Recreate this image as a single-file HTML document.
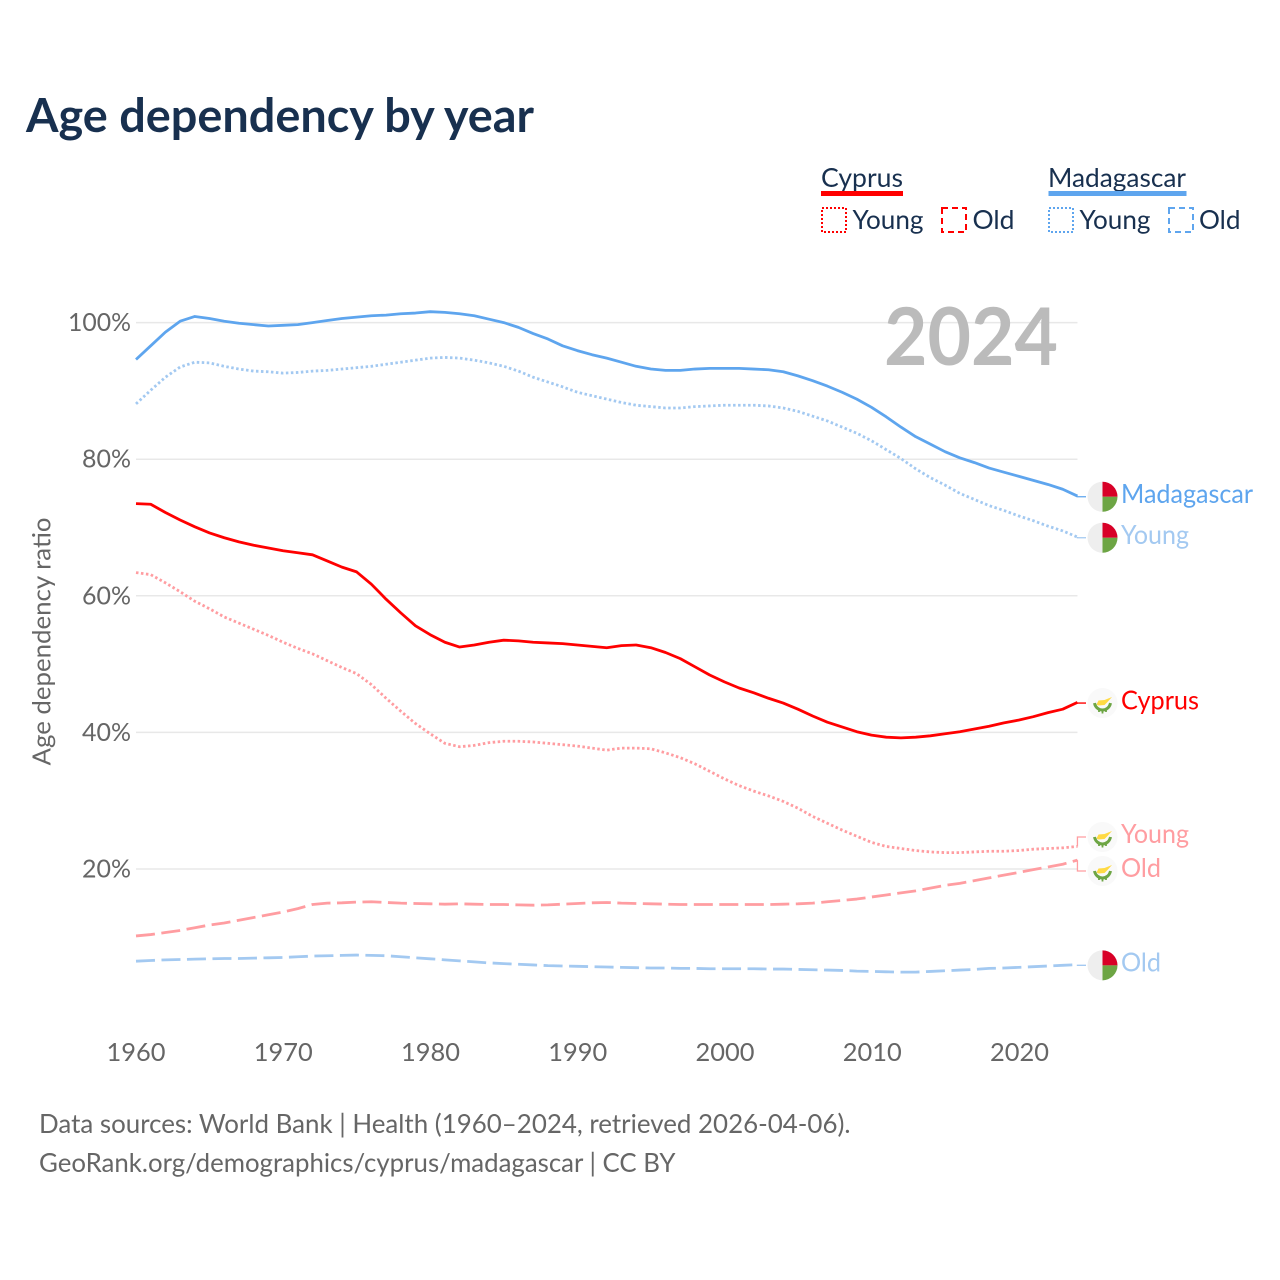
<!DOCTYPE html>
<html lang="en">
<head>
<meta charset="utf-8">
<title>Age dependency by year</title>
<style>
html,body{margin:0;padding:0;background:#fff;}
svg{display:block;}
text{font-family:Lato,Carlito,"Liberation Sans",sans-serif;}
</style>
</head>
<body>
<svg id="chart" xmlns="http://www.w3.org/2000/svg" width="1280" height="1280" viewBox="0 0 1280 1280">
  <rect x="0" y="0" width="1280" height="1280" fill="#fff"/>
  <text x="26" y="132" font-size="47" font-weight="700" fill="#18304f" textLength="508" lengthAdjust="spacingAndGlyphs">Age dependency by year</text>

  <g font-size="26.5" fill="#18304f">
    <g>
      <text x="821" y="187" textLength="82" lengthAdjust="spacingAndGlyphs">Cyprus</text>
      <rect x="821" y="191" width="82" height="5" fill="#ff0000"/>
    </g>
    <g>
      <rect x="822" y="208" width="24" height="24" fill="none" stroke="#ff0000" stroke-width="2" stroke-dasharray="2 2"/>
      <text x="852.5" y="229" textLength="71" lengthAdjust="spacingAndGlyphs">Young</text>
    </g>
    <g>
      <rect x="942" y="208" width="24" height="24" fill="none" stroke="#ff0000" stroke-width="2" stroke-dasharray="6 4"/>
      <text x="972.5" y="229" textLength="42" lengthAdjust="spacingAndGlyphs">Old</text>
    </g>
    <g>
      <text x="1048" y="187" textLength="138" lengthAdjust="spacingAndGlyphs">Madagascar</text>
      <rect x="1048.5" y="191" width="138" height="5" fill="#5ea5ee"/>
    </g>
    <g>
      <rect x="1049" y="208" width="24" height="24" fill="none" stroke="#5ea5ee" stroke-width="2" stroke-dasharray="2 2"/>
      <text x="1079.5" y="229" textLength="71" lengthAdjust="spacingAndGlyphs">Young</text>
    </g>
    <g>
      <rect x="1169" y="208" width="24" height="24" fill="none" stroke="#5ea5ee" stroke-width="2" stroke-dasharray="6 4"/>
      <text x="1199" y="229" textLength="41.5" lengthAdjust="spacingAndGlyphs">Old</text>
    </g>
  </g>

  <g id="grid"></g>
  <text x="884" y="365" font-size="80" font-weight="700" fill="#bbbbbb" textLength="174" lengthAdjust="spacingAndGlyphs">2024</text>
  <g id="yticks" font-size="25.5" fill="#666666"></g>
  <g id="xticks" font-size="25.5" fill="#666666"></g>
  <text transform="translate(50.5,641.5) rotate(-90)" text-anchor="middle" font-size="25.5" fill="#666666" textLength="248" lengthAdjust="spacingAndGlyphs">Age dependency ratio</text>
  <g id="series"></g>
  <g id="endlabels"></g>

  <g font-size="26.5" fill="#666666">
    <text x="39" y="1133" textLength="811.5" lengthAdjust="spacingAndGlyphs">Data sources: World Bank | Health (1960–2024, retrieved 2026-04-06).</text>
    <text x="39" y="1172" textLength="636.5" lengthAdjust="spacingAndGlyphs">GeoRank.org/demographics/cyprus/madagascar | CC BY</text>
  </g>
</svg>
<script>
const startYear = 1960;
const xTickYears = [1960, 1970, 1980, 1990, 2000, 2010, 2020];
const yTickValues = [20, 40, 60, 80, 100];

const madagascarTotal = [
  94.6,96.6,98.6,100.2,100.9,100.6,100.2,99.9,99.7,99.5,
  99.6,99.7,100.0,100.3,100.6,100.8,101.0,101.1,101.3,101.4,
  101.6,101.5,101.3,101.0,100.5,100.0,99.3,98.4,97.6,96.6,
  95.9,95.3,94.8,94.2,93.6,93.2,93.0,93.0,93.2,93.3,
  93.3,93.3,93.2,93.1,92.8,92.2,91.5,90.7,89.8,88.8,
  87.6,86.2,84.7,83.3,82.2,81.1,80.2,79.5,78.7,78.1,
  77.5,76.9,76.3,75.6,74.6];
const madagascarYoung = [
  88.1,90.1,92.0,93.5,94.2,94.1,93.6,93.2,92.9,92.8,
  92.6,92.7,92.9,93.0,93.2,93.4,93.6,93.9,94.2,94.5,
  94.8,94.9,94.8,94.5,94.1,93.6,92.9,92.0,91.3,90.6,
  89.8,89.3,88.8,88.3,87.9,87.7,87.5,87.5,87.7,87.8,
  87.9,87.9,87.9,87.8,87.5,87.0,86.3,85.6,84.7,83.8,
  82.7,81.4,80.1,78.6,77.3,76.2,75.0,74.1,73.2,72.5,
  71.7,71.0,70.2,69.5,68.6];
const madagascarOld = [
  6.5,6.6,6.7,6.75,6.8,6.85,6.9,6.9,6.95,7.0,
  7.05,7.15,7.25,7.3,7.35,7.4,7.35,7.3,7.15,7.0,
  6.85,6.7,6.55,6.4,6.25,6.15,6.05,5.95,5.85,5.8,
  5.75,5.7,5.65,5.6,5.55,5.5,5.5,5.45,5.45,5.4,
  5.4,5.4,5.4,5.35,5.35,5.3,5.25,5.2,5.15,5.05,
  5.0,4.95,4.9,4.9,5.0,5.1,5.2,5.3,5.45,5.5,
  5.6,5.7,5.8,5.9,6.0];
const cyprusTotal = [
  73.5,73.4,72.2,71.1,70.1,69.2,68.5,67.9,67.4,67.0,
  66.6,66.3,66.0,65.1,64.2,63.5,61.7,59.5,57.5,55.6,
  54.3,53.2,52.5,52.8,53.2,53.5,53.4,53.2,53.1,53.0,
  52.8,52.6,52.4,52.7,52.8,52.4,51.7,50.8,49.6,48.4,
  47.4,46.5,45.8,45.0,44.3,43.4,42.4,41.5,40.8,40.1,
  39.6,39.3,39.2,39.3,39.5,39.8,40.1,40.5,40.9,41.4,
  41.8,42.3,42.9,43.4,44.4];
const cyprusYoung = [
  63.4,63.1,61.9,60.6,59.2,58.1,56.9,56.0,55.1,54.2,
  53.2,52.3,51.5,50.5,49.5,48.6,47.0,45.0,43.1,41.3,
  39.8,38.4,37.9,38.1,38.5,38.7,38.7,38.6,38.4,38.2,
  38.0,37.7,37.4,37.7,37.7,37.6,37.0,36.3,35.4,34.3,
  33.2,32.2,31.4,30.7,29.9,28.9,27.7,26.7,25.7,24.8,
  23.9,23.3,23.0,22.7,22.5,22.4,22.4,22.5,22.6,22.6,
  22.7,22.9,23.0,23.1,23.3];
const cyprusOld = [
  10.2,10.4,10.7,11.0,11.4,11.8,12.1,12.5,12.9,13.3,
  13.7,14.2,14.8,15.0,15.05,15.15,15.2,15.1,15.0,14.95,
  14.9,14.85,14.9,14.85,14.8,14.8,14.75,14.7,14.75,14.85,
  14.95,15.05,15.1,15.0,14.95,14.9,14.85,14.8,14.8,14.8,
  14.8,14.8,14.8,14.8,14.85,14.9,15.0,15.2,15.4,15.6,
  15.9,16.2,16.5,16.8,17.2,17.6,17.9,18.3,18.7,19.1,
  19.5,19.9,20.3,20.7,21.3];

const NS = 'http://www.w3.org/2000/svg';
function xScale(year) { return 136 + (year - 1960) * 14.71; }
function yScale(v) { return 869 - (v - 20) * 6.83; }
function make(tag, attrs, parent) {
  const el = document.createElementNS(NS, tag);
  for (const k in attrs) el.setAttribute(k, attrs[k]);
  parent.appendChild(el);
  return el;
}

const gridLayer = document.getElementById('grid');
const yLayer = document.getElementById('yticks');
yTickValues.forEach(function (v) {
  const line = make('line', {x1: 136, x2: xScale(2024), y1: yScale(v), y2: yScale(v), stroke: '#e8e8e8', 'stroke-width': 1.5}, gridLayer);
  
  
  const label = make('text', {x: 131, y: yScale(v) + 8.5, 'text-anchor': 'end'}, yLayer);
  
  
  label.textContent = v + '%';
  label.setAttribute('textLength', v === 100 ? 63 : 49);
  label.setAttribute('lengthAdjust', 'spacingAndGlyphs');
});

const xLayer = document.getElementById('xticks');
xTickYears.forEach(function (yr) {
  const label = make('text', {x: 136 + (yr - 1960) * 14.725, y: 1061, 'text-anchor': 'middle', textLength: 59, lengthAdjust: 'spacingAndGlyphs'}, xLayer);
  
  
  label.textContent = yr;
});

const RED = '#ff0000', RED_L = '#ff9da1', BLUE = '#5ea5ee', BLUE_L = '#a3c9f1';
const DOT = '2.5 2.5', DASH = '19 6.5';
const seriesList = [
  {key: 'madagascar-old', values: madagascarOld, color: BLUE_L, dash: DASH, label: 'Old', width: 40, flag: 'mg'},
  {key: 'madagascar-young', values: madagascarYoung, color: BLUE_L, dash: DOT, label: 'Young', width: 68, flag: 'mg'},
  {key: 'madagascar-total', values: madagascarTotal, color: BLUE, dash: '', label: 'Madagascar', width: 132, flag: 'mg'},
  {key: 'cyprus-old', values: cyprusOld, color: RED_L, dash: DASH, label: 'Old', width: 40, flag: 'cy'},
  {key: 'cyprus-young', values: cyprusYoung, color: RED_L, dash: DOT, label: 'Young', width: 68, flag: 'cy'},
  {key: 'cyprus-total', values: cyprusTotal, color: RED, dash: '', label: 'Cyprus', width: 78, flag: 'cy'}
];

const seriesLayer = document.getElementById('series');
seriesList.forEach(function (s) {
  const d = s.values.map(function (v, i) {
    return (i ? 'L' : 'M') + xScale(startYear + i).toFixed(2) + ' ' + yScale(v).toFixed(2);
  }).join('');
  const path = make('path', {d: d, fill: 'none', stroke: s.color, 'stroke-width': 2.8, 'stroke-linejoin': 'round'}, seriesLayer);
  if (s.dash) path.setAttribute('stroke-dasharray', s.dash);
  
  
  s.endY = yScale(s.values[s.values.length - 1]);
});

/* dodge end labels so they keep a minimum vertical gap */
const MIN_GAP = 34;
const ordered = seriesList.slice().sort(function (a, b) { return a.endY - b.endY; });
ordered.forEach(function (s) { s.flagY = s.endY + 0.7; });
for (let i = 1; i < ordered.length; i++) {
  const gap = ordered[i].flagY - ordered[i - 1].flagY;
  if (gap < MIN_GAP) {
    const push = (MIN_GAP - gap) / 2;
    ordered[i - 1].flagY -= push;
    ordered[i].flagY += push;
  }
}

const endLayer = document.getElementById('endlabels');
const endX = xScale(2024);
function drawFlag(group, type) {
  if (type === 'mg') {
    group.innerHTML =
      '<circle r="15" fill="#eeeeee"/>' +
      '<path d="M0 0V-15A15 15 0 0 1 15 0Z" fill="#d80027"/>' +
      '<path d="M0 0H15A15 15 0 0 1 0 15Z" fill="#6da544"/>';
  } else {
    group.innerHTML =
      '<circle r="15" fill="#f9f9f9"/>' +
      '<path d="M-6 1.5L-4 -2.5L2 -3L9.5 -6L5 -1L2 2L-4 2.5Z" fill="#ffda44"/>' +
      '<path d="M-8 0C-7 5 -3 7 0 7C3 7 7 5 8 0" fill="none" stroke="#6da544" stroke-width="3"/>' +
      '<path d="M-3.5 7V9M0 8V10.5M3.5 7V9" fill="none" stroke="#6da544" stroke-width="1.8"/>';
  }
}
seriesList.forEach(function (s) {
  const conn = make('path', {
    d: 'M' + endX.toFixed(2) + ' ' + s.endY.toFixed(2) + 'V' + s.flagY.toFixed(2) + 'H1086',
    fill: 'none', stroke: s.color, 'stroke-width': 1.3
  }, endLayer);
  
  
  const flag = make('g', {transform: 'translate(1102.5,' + s.flagY.toFixed(2) + ')'}, endLayer);
  
  
  drawFlag(flag, s.flag);
  const label = make('text', {
    x: 1121, y: (s.flagY + 6.2).toFixed(2), 'font-size': 26.5, fill: s.color,
    textLength: s.width, lengthAdjust: 'spacingAndGlyphs'
  }, endLayer);
  
  
  label.textContent = s.label;
});
</script>
</body>
</html>
